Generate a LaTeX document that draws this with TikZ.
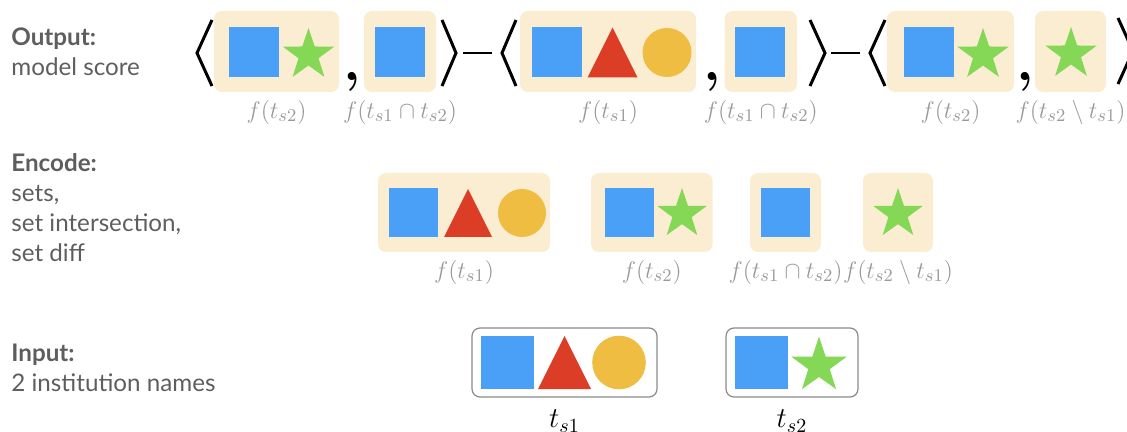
\documentclass[tikz,border=0pt]{standalone}
\usepackage{fontspec}
\usepackage{xcolor}
\newfontfamily\headfont{Lato}
\definecolor{setBlue}{HTML}{4A9FF6}
\definecolor{setRed}{HTML}{DB3D27}
\definecolor{setYellow}{HTML}{EFBD42}
\definecolor{setGreen}{HTML}{84D856}
\definecolor{setBeige}{HTML}{FAEDD1}
\definecolor{setText}{HTML}{5E5E5E}
\definecolor{setLabel}{HTML}{9A9A9A}
\definecolor{setFrame}{HTML}{8A8A8A}
\usetikzlibrary{positioning, fit}

\begin{document}
\begin{tikzpicture}[
  x=0.5pt, y=-0.5pt,
  every node/.style={inner sep=0pt},
  head/.style={font=\headfont\fontsize{12.1}{15}\selectfont, text=setText, align=left, anchor=north west},
  setbox/.style={fill=setBeige, rounded corners=4pt},
  namebox/.style={draw=setFrame, line width=0.6pt, rounded corners=4pt},
  flabel/.style={text=setLabel, font=\fontsize{12.5}{12.5}\selectfont},
  tlabel/.style={font=\fontsize{14.6}{14.6}\selectfont},
  brack/.style={line width=1.5pt, line join=miter},
  minus/.style={line width=1.2pt},
  comma/.style={font=\fontsize{28}{28}\selectfont\bfseries, anchor=base},
  pics/sqr/.style={code={\fill[setBlue] (-#1,-#1) rectangle (#1,#1);}},
  pics/tri/.style={code={\fill[setRed] (-#1,#1) -- (0,-#1) -- (#1,#1) -- cycle;}},
  pics/dot/.style={code={\fill[setYellow] (0,0) circle[radius=#1];}},
  pics/starpic/.style={code={\fill[setGreen] (-90:#1)
    \foreach \k in {0,...,4} { -- ({-54+72*\k}:{0.39*#1}) -- ({-18+72*\k}:#1) } -- cycle;}}
]
  \useasboundingbox (0,0) rectangle (1127,432);

  \node[head] (outhead) at (11,27) {\textbf{Output:}\\model score};
  \node[head] (enchead) at (11,153) {\textbf{Encode:}\\sets,\\set intersection,\\set diff};
  \node[head] (inhead) at (11,344) {\textbf{Input:}\\2 institution names};

  % output row
  \node[setbox, fit={(214,11) (339,92)}] (out1) {};
  \node[setbox, fit={(364,11) (436,92)}] (out2) {};
  \node[setbox, fit={(520,11) (696,92)}] (out3) {};
  \node[setbox, fit={(724.5,11) (797,92)}] (out4) {};
  \node[setbox, fit={(887,11) (1014,92)}] (out5) {};
  \node[setbox, fit={(1035,11) (1106,92)}] (out6) {};
  \pic at (254,52.5) {sqr=25};
  \pic at (308.5,55) {starpic=27};
  \pic at (400,52.5) {sqr=25};
  \pic at (557,52.5) {sqr=25};
  \pic at (612.5,52.5) {tri=25};
  \pic at (667,52.5) {dot=24.5};
  \pic at (760,52.5) {sqr=25};
  \pic at (929,52.5) {sqr=25};
  \pic at (983,55) {starpic=27};
  \pic at (1071,54) {starpic=27};
  \node[flabel, below=3.75pt of out1] (out1f) {$f(t_{s2})$};
  \node[flabel, below=3.75pt of out2] (out2f) {$f(t_{s1}\cap t_{s2})$};
  \node[flabel, below=3.75pt of out3] (out3f) {$f(t_{s1})$};
  \node[flabel, below=3.75pt of out4] (out4f) {$f(t_{s1}\cap t_{s2})$};
  \node[flabel, below=3.75pt of out5] (out5f) {$f(t_{s2})$};
  \node[flabel, below=3.75pt of out6] (out6f) {$f(t_{s2}\setminus t_{s1})$};
  \draw[brack] (212,20) -- (197,53) -- (212,86);
  \node[comma] (c1) at (352,81) {,};
  \draw[brack] (442,20) -- (456,53) -- (442,86);
  \draw[minus] (463,53) -- (492,53);
  \draw[brack] (516,20) -- (502,53) -- (516,86);
  \node[comma] (c2) at (712,81) {,};
  \draw[brack] (810,20) -- (825,53) -- (810,86);
  \draw[minus] (831,53) -- (860,53);
  \draw[brack] (885,20) -- (870,53) -- (885,86);
  \node[comma] (c3) at (1025,81) {,};
  \draw[brack] (1118,18) -- (1133,51) -- (1118,84);

  % encode row
  \node[setbox, fit={(378,173) (550,252)}] (enc1) {};
  \node[setbox, fit={(591,173) (712.6,252)}] (enc2) {};
  \node[setbox, fit={(750,173) (821,252)}] (enc3) {};
  \node[setbox, fit={(863,173) (933,252)}] (enc4) {};
  \pic at (413.5,213) {sqr=24.5};
  \pic at (468,213) {tri=24};
  \pic at (522,213) {dot=24};
  \pic at (629.5,213) {sqr=24.5};
  \pic at (682,214) {starpic=26};
  \pic at (785.5,212.5) {sqr=24.5};
  \pic at (898,214) {starpic=26};
  \node[flabel, below=3.75pt of enc1] (enc1f) {$f(t_{s1})$};
  \node[flabel, below=3.75pt of enc2] (enc2f) {$f(t_{s2})$};
  \node[flabel, below=3.75pt of enc3] (enc3f) {$f(t_{s1}\cap t_{s2})$};
  \node[flabel, below=3.75pt of enc4] (enc4f) {$f(t_{s2}\setminus t_{s1})$};

  % input row
  \node[namebox, fit={(472,328) (657,397)}] (in1) {};
  \node[namebox, fit={(726,328) (858,397)}] (in2) {};
  \pic at (507.5,362.5) {sqr=26.5};
  \pic at (564.5,362.5) {tri=26.5};
  \pic at (619,362.5) {dot=26.8};
  \pic at (761.5,362.5) {sqr=26.5};
  \pic at (819,365.7) {starpic=29};
  \node[tlabel, below=6pt of in1] (in1t) {$t_{s1}$};
  \node[tlabel, below=6pt of in2] (in2t) {$t_{s2}$};
\end{tikzpicture}
\end{document}
